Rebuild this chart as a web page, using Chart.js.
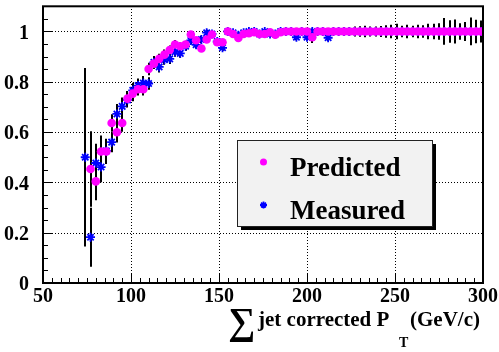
<!DOCTYPE html>
<html><head><meta charset="utf-8">
<script src="https://cdn.jsdelivr.net/npm/chart.js@4/dist/chart.umd.min.js"></script>
<style>html,body{margin:0;padding:0;background:#fff}</style>
</head><body>
<canvas id="c" width="499" height="352" style="display:block;width:499px;height:352px"></canvas>
<script>
// ---- data ----
const xValues = [74,77,80,83,86,89,92,95,98,101,104,107,110,113,116,119,122,125,128,131,134,137,140,143,146,149,152,155,158,161,164,167,170,173,176,179,182,185,188,191,194,197,200,203,206,209,212,215,218,221,224,227,230,233,236,239,242,245,248,251,254,257,260,263,266,269,272,275,278,281,284,287,290,293,296,299];
const predicted = [null,0.453,0.404,0.523,0.523,0.636,0.599,0.636,0.733,0.753,0.770,0.770,0.851,0.872,0.891,0.908,0.926,0.948,0.941,0.948,0.988,0.965,0.932,0.968,0.988,0.957,0.957,1.0,0.990,0.974,0.990,0.993,0.997,0.990,0.990,0.997,0.987,0.997,1.0,1.0,1.0,1.0,1.0,0.977,1.0,1.0,1.0,1.0,1.0,1.0,1.0,1.0,1.0,1.0,1.0,1.0,1.0,1.0,1.0,1.0,1.0,1.0,1.0,1.0,1.0,1.0,1.0,1.0,1.0,1.0,1.0,1.0,1.0,1.0,1.0,1.0];
const predictedErr = [0,0.15,0.075,0.063,0.05,0.035,0.04,0.035,0.03,0.03,0.025,0.025,0.025,0.02,0.02,0.02,0.018,0.018,0.015,0.015,0.012,0.012,0.012,0.01,0.01,0.01,0.01,0.006,0.006,0.006,0.006,0.006,0.006,0.006,0.006,0.006,0.006,0.006,0.006,0.006,0.006,0.006,0.006,0.023,0.006,0.006,0.006,0.006,0.006,0.006,0.006,0.006,0.006,0.006,0.006,0.006,0.006,0.006,0.006,0.006,0.006,0.006,0.006,0.006,0.006,0.006,0.006,0.006,0.006,0.006,0.006,0.006,0.006,0.006,0.006,0.006];
const measured = [0.50,0.182,0.477,0.461,0.525,0.56,0.672,0.702,0.728,0.766,0.785,0.795,0.793,0.877,0.859,0.888,0.891,0.919,0.913,0.941,0.964,0.947,0.968,0.995,0.990,0.960,0.935,1.0,0.995,0.985,0.995,1.0,1.0,0.990,1.0,0.990,0.990,1.0,1.0,1.0,0.977,1.0,0.977,1.0,1.0,1.0,0.975,1.0,1.0,1.0,1.0,1.0,1.0,1.0,1.0,1.0,1.0,1.0,1.0,1.0,1.0,1.0,1.0,1.0,1.0,1.0,1.0,1.0,1.0,1.0,1.0,1.0,1.0,1.0,1.0,1.0];
const measuredErr = [0.355,0.117,0.077,0.06,0.045,0.04,0.04,0.035,0.03,0.03,0.028,0.028,0.025,0.025,0.022,0.02,0.02,0.02,0.018,0.018,0.015,0.015,0.015,0.012,0.012,0.012,0.012,0.008,0.008,0.009,0.009,0.009,0.009,0.01,0.01,0.01,0.01,0.01,0.011,0.011,0.012,0.012,0.012,0.012,0.012,0.012,0.013,0.013,0.013,0.015,0.015,0.02,0.021,0.023,0.02,0.02,0.022,0.025,0.027,0.031,0.023,0.027,0.023,0.027,0.025,0.031,0.031,0.033,0.053,0.045,0.048,0.033,0.038,0.055,0.047,0.044];
const xTickValues = [50,100,150,200,250,300];
const yTickValues = [0,0.2,0.4,0.6,0.8,1];
const seriesNames = ['Predicted','Measured'];
const xTitle = ['\u2211', 'jet corrected P', 'T', '(GeV/c)'];

const SERIF = '"Liberation Serif","Times New Roman",serif';

function pts(ys){ return xValues.map((x,i)=> ys[i]==null ? null : {x:x, y:ys[i]}).filter(p=>p); }
function errs(ys, es){ return xValues.map((x,i)=> ys[i]==null ? null : {x:x, y:ys[i], e:es[i]}).filter(p=>p); }
function area(chart){
  const xs = chart.scales.x, ys = chart.scales.y;
  return { left: xs.getPixelForValue(50), right: xs.getPixelForValue(300), top: ys.getPixelForValue(1.1), bottom: ys.getPixelForValue(0) };
}

const decor = {
  id:'decor',
  beforeDatasetsDraw(chart){
    const ctx = chart.ctx, xs = chart.scales.x, ys = chart.scales.y, a = area(chart);
    try {
      ctx.save();
      ctx.fillStyle = '#000';
      const top = Math.round(a.top), bottom = Math.round(a.bottom);
      const left = Math.round(a.left), right = Math.round(a.right);
      xTickValues.slice(1,-1).forEach(v=>{
        const px = Math.round(xs.getPixelForValue(v));
        for (let y = top; y < bottom; y += 3) ctx.fillRect(px, y, 1, 1);
      });
      yTickValues.slice(1).forEach(v=>{
        const py = Math.round(ys.getPixelForValue(v));
        for (let x = left; x < right; x += 3) ctx.fillRect(x, py, 1, 1);
      });
      ctx.restore();
    } catch(e) {}
    try {
      ctx.save();
      ctx.strokeStyle = '#000';
      ctx.setLineDash([]);
      ctx.lineWidth = 2;
      [errs(measured, measuredErr), errs(predicted, predictedErr)].forEach(list=>{
        list.forEach(p=>{
          const px = Math.round(xs.getPixelForValue(p.x));
          ctx.beginPath();
          ctx.moveTo(px, ys.getPixelForValue(p.y + p.e));
          ctx.lineTo(px, ys.getPixelForValue(Math.max(0, p.y - p.e)));
          ctx.stroke();
        });
      });
      ctx.restore();
    } catch(e) {}
  },
  afterDraw(chart){
    const ctx = chart.ctx, xs = chart.scales.x, ys = chart.scales.y, a = area(chart);
    try {
      ctx.save();
      ctx.fillStyle = '#000';
      const bottom = Math.round(a.bottom), left = Math.round(a.left);
      for (let v = 50; v <= 300; v += 5) {
        const px = Math.round(xs.getPixelForValue(v));
        const len = (v % 50 === 0) ? 9 : 5;
        ctx.fillRect(px, bottom - len, 1, len);
      }
      for (let k = 0; k <= 22; k++) {
        const py = Math.round(ys.getPixelForValue(k * 0.05));
        const len = (k % 4 === 0) ? 9 : 5;
        ctx.fillRect(left, py, len, 1);
      }
      ctx.strokeStyle = '#000';
      ctx.lineWidth = 2;
      ctx.strokeRect(a.left, a.top, a.right - a.left, a.bottom - a.top);
      ctx.restore();
    } catch(e) {}
    try {
      ctx.save();
      const bx = 237, by = 140, bw = 195, bh = 86;
      ctx.fillStyle = '#000';
      ctx.fillRect(bx + 4, by + bh, bw, 4);
      ctx.fillRect(bx + bw, by + 4, 4, bh);
      ctx.fillStyle = '#f2f2f2';
      ctx.fillRect(bx, by, bw, bh);
      ctx.strokeStyle = '#222';
      ctx.lineWidth = 1;
      ctx.strokeRect(bx + 0.5, by + 0.5, bw, bh);
      const ds = chart.data.datasets;
      const rows = [{ds: ds[1], y: 162}, {ds: ds[0], y: 205}];
      rows.forEach(r=>{
        ctx.fillStyle = r.ds.backgroundColor;
        ctx.strokeStyle = r.ds.borderColor;
        ctx.lineWidth = r.ds.borderWidth;
        Chart.helpers.drawPoint(ctx, {pointStyle: r.ds.pointStyle, radius: 3.5, rotation: 0, borderWidth: r.ds.borderWidth}, 263.5, r.y);
        ctx.fillStyle = '#000';
        ctx.font = 'bold 27px ' + SERIF;
        ctx.textBaseline = 'alphabetic';
        ctx.textAlign = 'left';
        ctx.fillText(r.ds.label, 290, r.y + 13.5);
      });
      ctx.fillStyle = '#000';
      ctx.textBaseline = 'alphabetic';
      ctx.textAlign = 'left';
      ctx.font = 'bold 38px ' + SERIF;
      ctx.fillText(xTitle[0], 228, 334);
      ctx.font = 'bold 21px ' + SERIF;
      ctx.fillText(xTitle[1], 258, 326);
      ctx.fillText(xTitle[3], 410, 326);
      ctx.font = 'bold 14px ' + SERIF;
      ctx.fillText(xTitle[2], 399, 347);
      ctx.restore();
    } catch(e) {}
  }
};

new Chart(document.getElementById('c'), {
  type: 'scatter',
  data: {
    datasets: [
      { label: seriesNames[1], data: pts(measured), pointStyle: 'star', pointRadius: 4.5, borderWidth: 1.8, borderColor: '#0000ff', backgroundColor: '#0000ff', order: 2 },
      { label: seriesNames[0], data: pts(predicted), pointStyle: 'circle', pointRadius: 4.3, borderWidth: 0, borderColor: '#ff00ff', backgroundColor: '#ff00ff', order: 1 }
    ]
  },
  options: {
    responsive: false,
    animation: false,
    devicePixelRatio: 1,
    layout: { padding: { left: 0, right: 16, top: 5, bottom: 0 } },
    plugins: { legend: { display: false }, tooltip: { enabled: false } },
    scales: {
      x: {
        type: 'linear', min: 50, max: 300,
        grid: { display: false }, border: { display: false },
        ticks: { color: '#000', font: { family: SERIF, weight: 'bold', size: 20 }, padding: -6, maxRotation: 0, autoSkip: false },
        afterBuildTicks: s => { s.ticks = xTickValues.map(v => ({ value: v })); },
        afterFit: s => { s.height = 69; }
      },
      y: {
        type: 'linear', min: 0, max: 1.1,
        grid: { display: false }, border: { display: false },
        ticks: { color: '#000', font: { family: SERIF, weight: 'bold', size: 20 }, padding: 6, labelOffset: 2,
                 callback: v => String(+(+v).toFixed(1)) },
        afterBuildTicks: s => { s.ticks = yTickValues.map(v => ({ value: v })); },
        afterFit: s => { s.width = 43; s.paddingTop = 0; s.paddingBottom = 0; }
      }
    }
  },
  plugins: [decor]
});
</script>
</body></html>
